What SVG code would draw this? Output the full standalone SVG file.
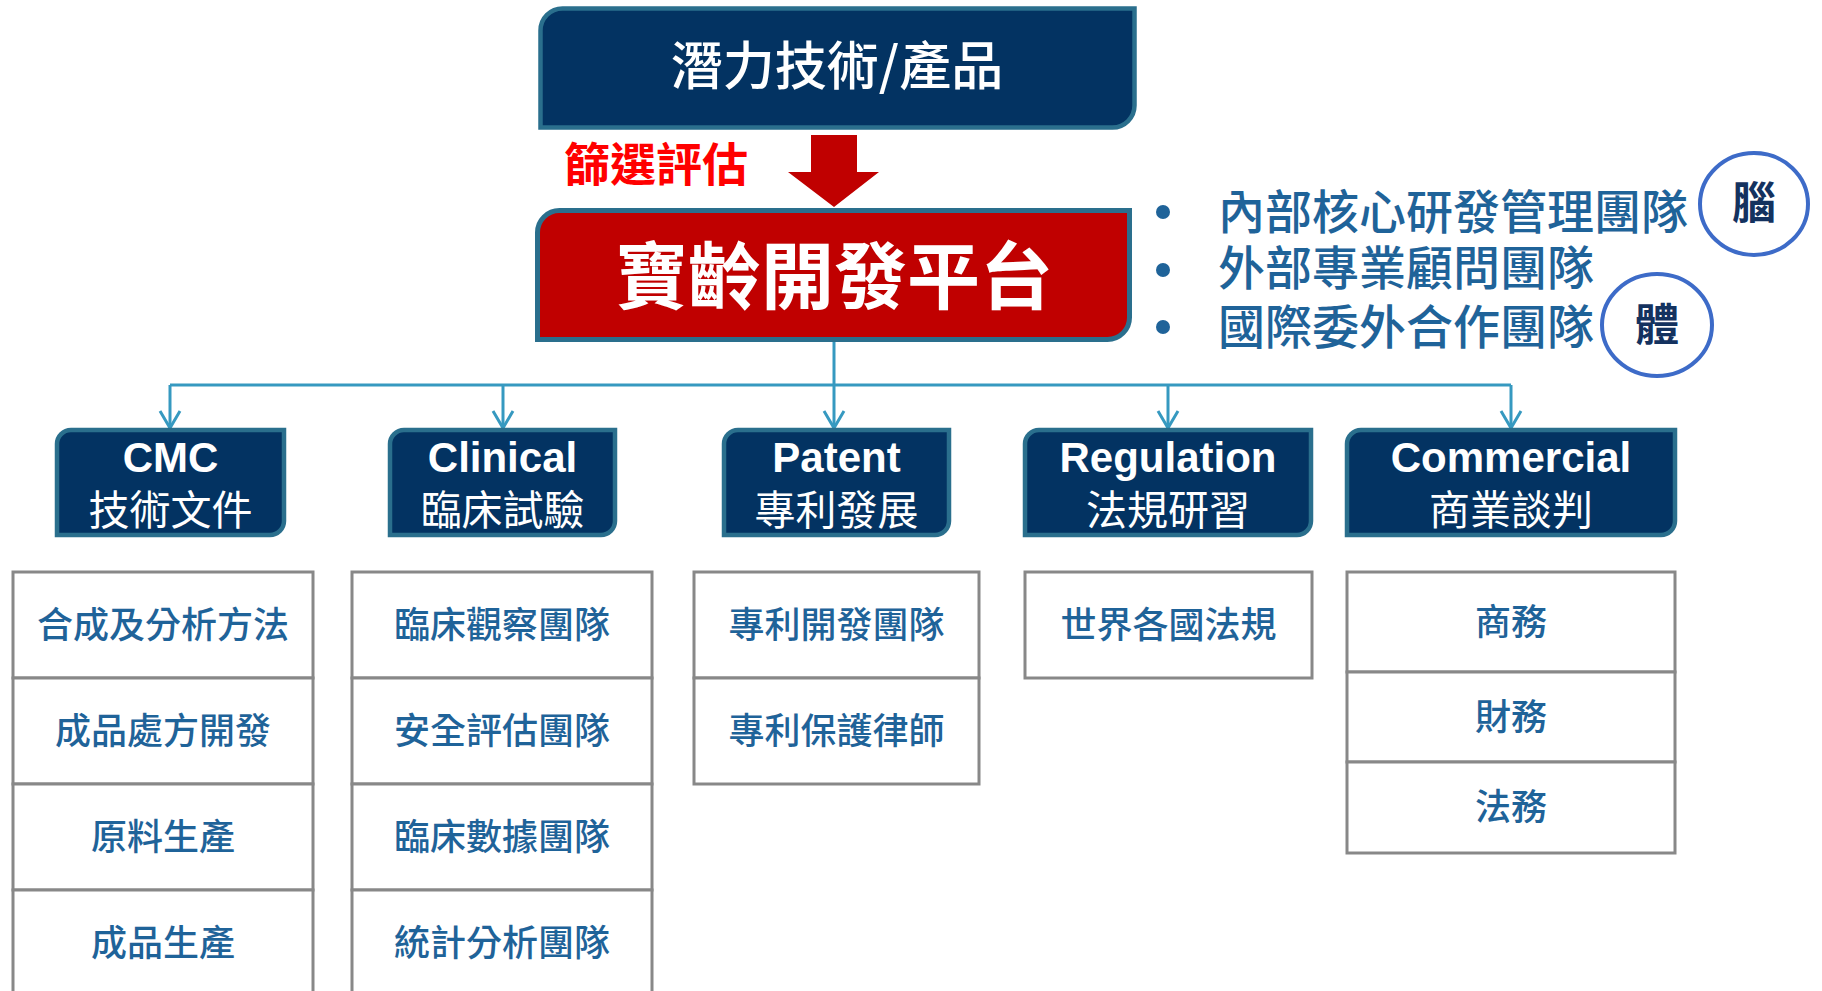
<svg xmlns="http://www.w3.org/2000/svg" width="1822" height="991" viewBox="0 0 1822 991">
  <defs>
    <marker id="openArrow" markerUnits="userSpaceOnUse" markerWidth="24" markerHeight="26" viewBox="-20 -12 24 24" refX="0" refY="0" orient="auto">
      <path d="M-17,-10 L0,0 L-17,10" fill="none" stroke="#3699c0" stroke-width="3" stroke-linejoin="miter"/>
    </marker>
    <style>
      .navy { fill: #033362; stroke: #2a6f8d; stroke-width: 4.5; }
      .red { fill: #c00000; stroke: #2a6f8d; stroke-width: 5; }
      .cell { fill: #ffffff; stroke: #888888; stroke-width: 3; }
      .conn { fill: none; stroke: #3699c0; stroke-width: 3; }
      .cjk { font-family: "Noto Sans CJK TC", "Noto Sans CJK SC", sans-serif; }
      .en { font-family: "Liberation Sans", "Noto Sans CJK TC", sans-serif; font-weight: bold; }
      .white { fill: #ffffff; }
      .blue { fill: #1f6399; }
      .cellText { font-family: "Noto Sans CJK TC", sans-serif; font-size: 36px; fill: #1f6399; text-anchor: middle; font-weight: 500; }
      .l2en { font-size: 42px; text-anchor: middle; fill: #ffffff; }
      .l2zh { font-size: 41px; text-anchor: middle; fill: #ffffff; }
      .list { font-family: "Noto Sans CJK TC", sans-serif; font-size: 47px; fill: #1f6399; font-weight: 500; }
      .ring { fill: none; stroke: #3d6bc8; stroke-width: 4; }
      .ringText { font-family: "Noto Sans CJK TC", sans-serif; font-size: 44px; font-weight: bold; fill: #14325f; text-anchor: middle; }
    </style>
  </defs>

  <rect x="0" y="0" width="1822" height="991" fill="#ffffff"/>

  <!-- Top node -->
  <g id="node-potential">
    <path class="navy" stroke-width="5" d="M562.5,8.5 H1134.5 V105.5 A22,22 0 0 1 1112.5,127.5 H540.5 V30.5 A22,22 0 0 1 562.5,8.5 Z"/>
    <text class="cjk white" x="837" y="85" font-size="52" font-weight="500" text-anchor="middle">潛力技術/產品</text>
  </g>

  <!-- Screening arrow and label -->
  <g id="node-screening">
    <polygon points="811,135 857,135 857,172 879,172 834,207 788,172 811,172" fill="#c00000"/>
    <text class="cjk" x="656" y="181" font-size="46" font-weight="bold" fill="#ff0000" text-anchor="middle">篩選評估</text>
  </g>

  <!-- Platform node -->
  <g id="node-platform">
    <path class="red" d="M559.5,210.5 H1129.5 V317.5 A22,22 0 0 1 1107.5,339.5 H537.5 V232.5 A22,22 0 0 1 559.5,210.5 Z"/>
    <text class="cjk white" x="834" y="303" font-size="73" font-weight="bold" text-anchor="middle">寶齡開發平台</text>
  </g>

  <!-- Team list -->
  <g id="node-teams">
    <circle cx="1163" cy="212" r="7" class="blue"/>
    <circle cx="1163" cy="270" r="7" class="blue"/>
    <circle cx="1163" cy="327" r="7" class="blue"/>
    <text class="list" x="1218" y="229">內部核心研發管理團隊</text>
    <text class="list" x="1218" y="285">外部專業顧問團隊</text>
    <text class="list" x="1218" y="344">國際委外合作團隊</text>
  </g>
  <g id="node-brain">
    <ellipse class="ring" cx="1754" cy="204" rx="54" ry="51"/>
    <text class="ringText" x="1754" y="219">腦</text>
  </g>
  <g id="node-body">
    <ellipse class="ring" cx="1657" cy="325" rx="55" ry="51"/>
    <text class="ringText" x="1657" y="341">體</text>
  </g>

  <!-- Connectors -->
  <g id="connectors">
    <path class="conn" d="M834,342 V385"/>
    <path class="conn" d="M170,385 H1511"/>
    <path class="conn" d="M170,385 V428" marker-end="url(#openArrow)"/>
    <path class="conn" d="M503,385 V428" marker-end="url(#openArrow)"/>
    <path class="conn" d="M834,385 V428" marker-end="url(#openArrow)"/>
    <path class="conn" d="M1168,385 V428" marker-end="url(#openArrow)"/>
    <path class="conn" d="M1511,385 V428" marker-end="url(#openArrow)"/>
  </g>

  <!-- Level 2 nodes -->
  <g id="node-cmc">
    <path class="navy" d="M71,430 H284 V521 A14,14 0 0 1 270,535 H57 V444 A14,14 0 0 1 71,430 Z"/>
    <text class="en l2en" x="170.5" y="472">CMC</text>
    <text class="cjk l2zh" x="170.5" y="525">技術文件</text>
  </g>
  <g id="node-clinical">
    <path class="navy" d="M404,430 H615 V521 A14,14 0 0 1 601,535 H390 V444 A14,14 0 0 1 404,430 Z"/>
    <text class="en l2en" x="502.5" y="472">Clinical</text>
    <text class="cjk l2zh" x="502.5" y="525">臨床試驗</text>
  </g>
  <g id="node-patent">
    <path class="navy" d="M738,430 H949 V521 A14,14 0 0 1 935,535 H724 V444 A14,14 0 0 1 738,430 Z"/>
    <text class="en l2en" x="836.5" y="472">Patent</text>
    <text class="cjk l2zh" x="836.5" y="525">專利發展</text>
  </g>
  <g id="node-regulation">
    <path class="navy" d="M1039,430 H1311 V521 A14,14 0 0 1 1297,535 H1025 V444 A14,14 0 0 1 1039,430 Z"/>
    <text class="en l2en" x="1168" y="472">Regulation</text>
    <text class="cjk l2zh" x="1168" y="525">法規研習</text>
  </g>
  <g id="node-commercial">
    <path class="navy" d="M1361,430 H1675 V521 A14,14 0 0 1 1661,535 H1347 V444 A14,14 0 0 1 1361,430 Z"/>
    <text class="en l2en" x="1511" y="472">Commercial</text>
    <text class="cjk l2zh" x="1511" y="525">商業談判</text>
  </g>

  <!-- Level 3: CMC -->
  <g id="node-cmc-items">
    <rect class="cell" x="13" y="572" width="300" height="106"/>
    <rect class="cell" x="13" y="678" width="300" height="106"/>
    <rect class="cell" x="13" y="784" width="300" height="106"/>
    <rect class="cell" x="13" y="890" width="300" height="110"/>
    <text class="cellText" x="163" y="638">合成及分析方法</text>
    <text class="cellText" x="163" y="744">成品處方開發</text>
    <text class="cellText" x="163" y="850">原料生產</text>
    <text class="cellText" x="163" y="956">成品生產</text>
  </g>

  <!-- Level 3: Clinical -->
  <g id="node-clinical-items">
    <rect class="cell" x="352" y="572" width="300" height="106"/>
    <rect class="cell" x="352" y="678" width="300" height="106"/>
    <rect class="cell" x="352" y="784" width="300" height="106"/>
    <rect class="cell" x="352" y="890" width="300" height="110"/>
    <text class="cellText" x="502" y="638">臨床觀察團隊</text>
    <text class="cellText" x="502" y="744">安全評估團隊</text>
    <text class="cellText" x="502" y="850">臨床數據團隊</text>
    <text class="cellText" x="502" y="956">統計分析團隊</text>
  </g>

  <!-- Level 3: Patent -->
  <g id="node-patent-items">
    <rect class="cell" x="694" y="572" width="285" height="106"/>
    <rect class="cell" x="694" y="678" width="285" height="106"/>
    <text class="cellText" x="836.5" y="638">專利開發團隊</text>
    <text class="cellText" x="836.5" y="744">專利保護律師</text>
  </g>

  <!-- Level 3: Regulation -->
  <g id="node-regulation-items">
    <rect class="cell" x="1025" y="572" width="287" height="106"/>
    <text class="cellText" x="1168.5" y="638">世界各國法規</text>
  </g>

  <!-- Level 3: Commercial -->
  <g id="node-commercial-items">
    <rect class="cell" x="1347" y="572" width="328" height="100"/>
    <rect class="cell" x="1347" y="672" width="328" height="90"/>
    <rect class="cell" x="1347" y="762" width="328" height="91"/>
    <text class="cellText" x="1511" y="635">商務</text>
    <text class="cellText" x="1511" y="730">財務</text>
    <text class="cellText" x="1511" y="820">法務</text>
  </g>
</svg>
